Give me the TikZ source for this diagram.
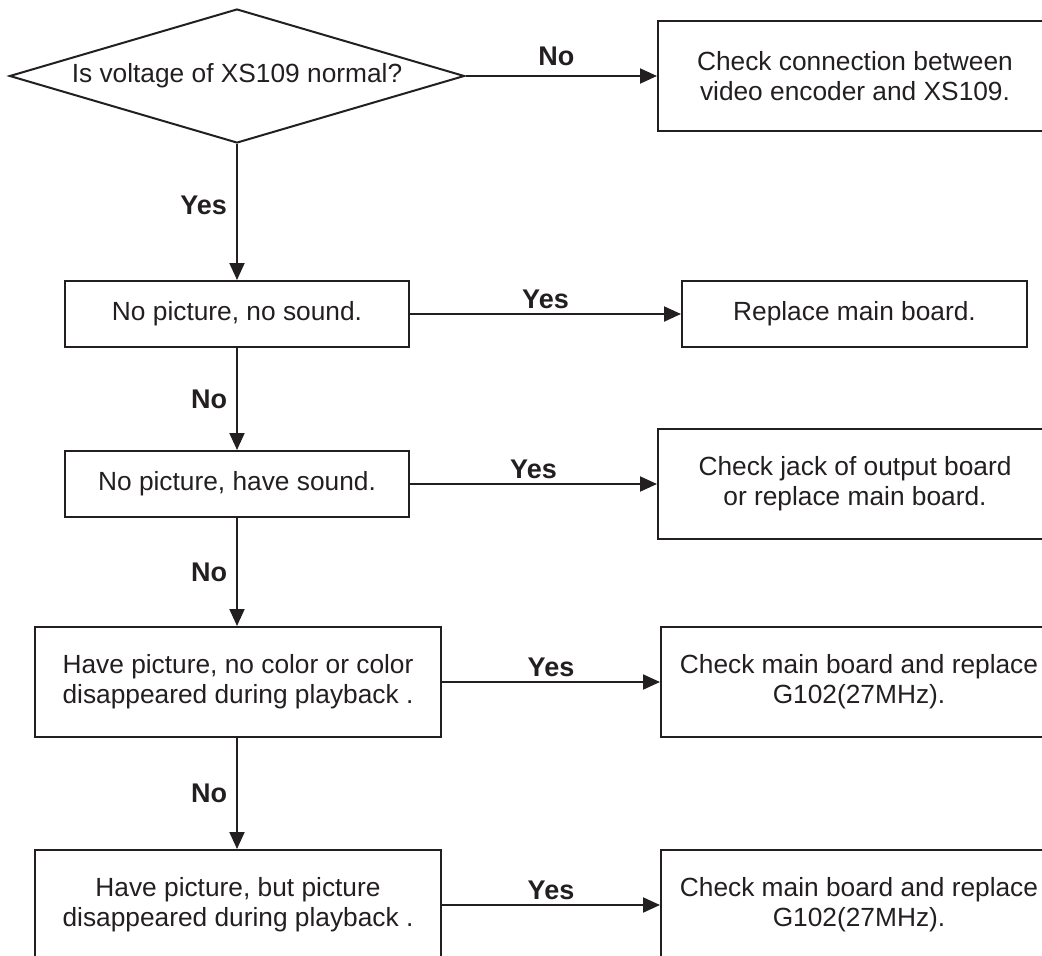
\documentclass[tikz,border=0pt]{standalone}
\usepackage{fontspec}
\setmainfont{Liberation Sans}
\usetikzlibrary{shapes.geometric,arrows.meta,positioning}
\definecolor{ink}{HTML}{231F20}
\tikzset{
box/.style={
	draw=ink, line width=2pt, text=ink, align=center, inner sep=0pt,
	minimum width=344pt, minimum height=66pt,
	font=\fontsize{26.3}{30}\selectfont},
tallbox/.style={box, minimum width=406pt, minimum height=110pt},
fixbox/.style={box, minimum width=396pt, minimum height=110pt},
decision/.style={box, diamond, aspect=3.4, minimum width=455pt,
	minimum height=134pt},
answer/.style={text=ink, inner sep=4pt, font=\bfseries\fontsize{27}{30}\selectfont},
flow/.style={draw=ink, line width=2pt, -{Triangle[length=17pt,width=15pt]}}
}

\begin{document}
\begin{tikzpicture}[x=1pt, y=-1pt]
	\useasboundingbox (0,0) rectangle (1042,956);
	\clip (0,0) rectangle (1042,956);
	\node[decision] (volt) at (237,76) {Is voltage of XS109 normal?};
	\node[box] (nosound) at (237,314) {No picture, no sound.};
	\node[box] (sound) at (237,484) {No picture, have sound.};
	\node[tallbox] (nocolor) at (238,682) {Have picture, no color or color\\disappeared during playback .};
	\node[tallbox] (gone) at (238,905) {Have picture, but picture\\disappeared during playback .};
	\node[fixbox, minimum width=394pt] (conn) at (855,76) {Check connection between\\video encoder and XS109.};
	\node[box, minimum width=345pt] (main) at (854.5,314) {Replace main board.};
	\node[fixbox, minimum width=394pt] (jack) at (855,484) {Check jack of output board\\or replace main board.};
	\node[fixbox] (xtal) at (859,682) {Check main board and replace\\G102(27MHz).};
	\node[fixbox] (xtaltwo) at (859,905) {Check main board and replace\\G102(27MHz).};
	\draw[flow] (volt.east) -- node[answer, above=5pt, xshift=-5pt] {No} (conn.west);
	\draw[flow] (volt.south) -- node[answer, left=5pt, yshift=7pt] {Yes} (nosound.north);
	\draw[flow] (nosound.east) -- node[answer, above] {Yes} (main.west);
	\draw[flow] (nosound.south) -- node[answer, left=5pt] {No} (sound.north);
	\draw[flow] (sound.east) -- node[answer, above] {Yes} (jack.west);
	\draw[flow] (sound.south) -- node[answer, left=5pt] {No} (nocolor.north -| sound.south);
	\draw[flow] (nocolor.east) -- node[answer, above] {Yes} (xtal.west);
	\draw[flow] (nocolor.south -| sound.south) -- node[answer, left=5pt] {No} (gone.north -| sound.south);
	\draw[flow] (gone.east) -- node[answer, above] {Yes} (xtaltwo.west);
\end{tikzpicture}
\end{document}
